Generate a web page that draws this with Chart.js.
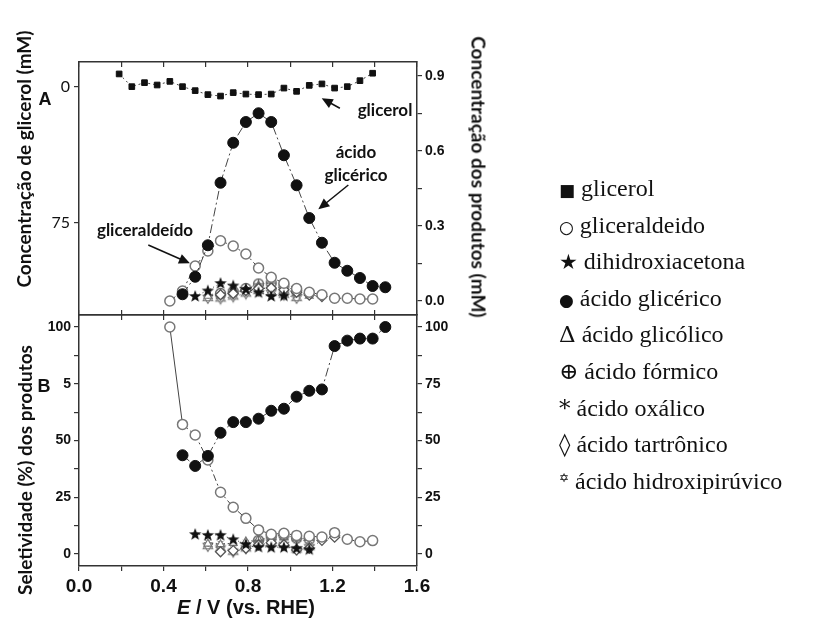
<!DOCTYPE html>
<html>
<head>
<meta charset="utf-8">
<script src="https://cdn.jsdelivr.net/npm/chart.js@4.4.1/dist/chart.umd.min.js"></script>
<style>
  body { margin: 0; background: #fff; }
  #wrap { position: relative; width: 819px; height: 621px; overflow: hidden; }
  canvas { position: absolute; left: 0; top: 0; }
  .t { position: absolute; white-space: nowrap; font-family: Lato, sans-serif; font-weight: bold; color: #111; transform: translate(-50%, -50%); }
  .ax { font-size: 19px; }
  .ann { font-size: 17px; }
  .pl { font-family: "Liberation Sans", Arial, sans-serif; font-size: 18px; }
  #xt { font-family: "Liberation Sans", Arial, sans-serif; font-size: 20px; }
  #legend { position: absolute; left: 559px; top: 170px; font-family: "Liberation Serif", "Times New Roman", Tinos, "Noto Serif", "DejaVu Serif", serif; font-size: 24px; color: #111; white-space: nowrap; }
  #legend div { height: 36.6px; line-height: 36.6px; }
  #legend span { line-height: 0; font-family: "DejaVu Sans", sans-serif; }
  #legend .s { font-size: 17px; }
  #legend .st { font-size: 21px; }
  #legend .big { font-family: "DejaVu Serif", serif; font-size: 23px; }
  #legend .sup { font-size: 12px; vertical-align: 7px; }
</style>
</head>
<body>
<div id="wrap">
  <canvas id="topChart" width="819" height="621"></canvas>
  <canvas id="botChart" width="819" height="621"></canvas>
  <div class="t ax" style="left:23px;top:159px;transform:translate(-50%,-50%) rotate(-90deg)">Concentração de glicerol (mM)</div>
  <div class="t ax" style="left:24px;top:470px;transform:translate(-50%,-50%) rotate(-90deg)">Seletividade (%) dos produtos</div>
  <div class="t ax" style="left:479px;top:177px;transform:translate(-50%,-50%) rotate(90deg)">Concentração dos produtos (mM)</div>
  <div class="t pl" style="left:45px;top:99px">A</div>
  <div class="t pl" style="left:44px;top:386px">B</div>
  <div class="t ann" style="left:385px;top:109px">glicerol</div>
  <div class="t ann" style="left:356px;top:151px">ácido</div>
  <div class="t ann" style="left:356px;top:174px">glicérico</div>
  <div class="t ann" style="left:145px;top:229px">gliceraldeído</div>
  <div class="t" id="xt" style="left:246px;top:607px"><i>E</i> / V (vs. RHE)</div>
  <div id="legend"></div>
</div>
<script>
// ---- data (E in V vs RHE) ----
const seriesNames = ['glicerol', 'gliceraldeido', 'dihidroxiacetona', 'ácido glicérico', 'ácido glicólico',
  'ácido fórmico', 'ácido oxálico', 'ácido tartrônico', 'ácido hidroxipirúvico'];
const legendSymbols = ['■', '○', '★', '●', 'Δ', '⊕', '*', '◊', '✡'];
const legendSymbolClass = ['s', 's', 'st', 's', 'big', 'big', 'big', 'big', 'sup'];

// panel A: glicerol on left axis, products (mM) on right axis
const eGlicerol = [0.19, 0.25, 0.31, 0.37, 0.43, 0.49, 0.55, 0.61, 0.67, 0.73, 0.79, 0.85, 0.91, 0.97, 1.03, 1.09, 1.15, 1.21, 1.27, 1.33, 1.39];
const glicerolA = [-7.2, -0.2, -2.4, -1.1, -3.1, -0.2, 2.0, 4.2, 5.0, 3.1, 3.9, 4.2, 3.9, 0.6, 2.4, -0.9, -1.7, 0.6, -0.2, -3.5, -7.6];

const eAldeido = [0.43, 0.49, 0.55, 0.61, 0.67, 0.73, 0.79, 0.85, 0.91, 0.97, 1.03, 1.09, 1.15, 1.21, 1.27, 1.33, 1.39];
const aldeidoA = [0.0, 0.04, 0.14, 0.20, 0.241, 0.22, 0.188, 0.132, 0.095, 0.071, 0.05, 0.035, 0.025, 0.011, 0.011, 0.008, 0.008];
const aldeidoB = [100, 57.1, 52.4, 41.4, 27.2, 20.6, 15.7, 10.6, 8.7, 9.1, 8.2, 7.8, 7.5, 9.4, 6.5, 5.4, 5.9];

const eGlicerico = [0.49, 0.55, 0.61, 0.67, 0.73, 0.79, 0.85, 0.91, 0.97, 1.03, 1.09, 1.15, 1.21, 1.27, 1.33, 1.39, 1.45];
const glicericoA = [0.027, 0.097, 0.223, 0.473, 0.633, 0.716, 0.751, 0.716, 0.583, 0.463, 0.332, 0.233, 0.153, 0.121, 0.092, 0.06, 0.055];
const glicericoB = [43.5, 38.8, 43.2, 53.4, 58.1, 58.1, 59.6, 63.1, 64.0, 69.3, 71.9, 72.5, 91.6, 94.0, 94.9, 94.9, 100];

const eDhaA = [0.55, 0.61, 0.67, 0.73, 0.79, 0.85, 0.91, 0.97];
const dhaA = [0.02, 0.042, 0.072, 0.062, 0.048, 0.035, 0.02, 0.022];
const eDhaB = [0.55, 0.61, 0.67, 0.73, 0.79, 0.85, 0.91, 0.97, 1.03, 1.09];
const dhaB = [8.8, 8.4, 8.4, 6.5, 4.4, 3.2, 3.0, 3.0, 2.6, 2.1];

const eGlicolico = [0.61, 0.67, 0.73, 0.79, 0.85, 0.91, 0.97, 1.03, 1.09];
const glicolicoA = [0.02, 0.025, 0.035, 0.045, 0.062, 0.06, 0.05, 0.03, 0.02];
const glicolicoB = [4.5, 4.2, 4.8, 5.5, 6.5, 7.2, 7.2, 6.8, 7.0];

const eFormicoA = [0.67, 0.73, 0.79, 0.85, 0.91, 0.97, 1.03];
const formicoA = [0.03, 0.038, 0.05, 0.068, 0.072, 0.06, 0.04];
const eFormicoB = [0.85, 0.91, 0.97, 1.03, 1.09];
const formicoB = [6.0, 7.8, 8.3, 7.0, 6.5];

const eOxalicoA = [0.61, 0.67, 0.73, 0.79, 0.85, 0.91, 0.97, 1.03];
const oxalicoA = [0.025, 0.03, 0.035, 0.04, 0.05, 0.05, 0.04, 0.03];
const eOxalicoB = [0.61, 0.67, 0.73, 0.79, 0.85, 0.91, 0.97, 1.03, 1.09];
const oxalicoB = [5.0, 4.5, 4.5, 5.0, 6.0, 6.5, 6.5, 6.0, 6.0];

const eTartronicoA = [0.67, 0.73, 0.79, 0.85, 0.91, 0.97, 1.03, 1.09, 1.15];
const tartronicoA = [0.025, 0.03, 0.042, 0.05, 0.052, 0.045, 0.035, 0.024, 0.018];
const eTartronicoB = [0.67, 0.73, 0.79, 0.85, 0.91, 0.97, 1.03, 1.09, 1.15, 1.21];
const tartronicoB = [1.0, 1.5, 2.5, 4.0, 5.0, 4.0, 1.8, 2.5, 6.0, 7.4];

const eHidroxiA = [0.61, 0.67, 0.73, 0.79, 0.85, 0.91, 0.97, 1.03];
const hidroxiA = [0.012, 0.01, 0.018, 0.03, 0.04, 0.032, 0.025, 0.012];
const eHidroxiB = [0.61, 0.67, 0.73, 0.79, 0.85, 0.91, 0.97, 1.03, 1.09];
const hidroxiB = [3.5, 2.5, 1.0, 2.5, 4.5, 5.0, 4.0, 2.0, 3.0];

// ticks
const xTickValues = [0, 0.4, 0.8, 1.2, 1.6];
const xTickLabels = ['0.0', '0.4', '0.8', '1.2', '1.6'];
const xMinor = [0.2, 0.6, 1.0, 1.4];
const gliTickValues = [0, 75];
const gliTickLabels = ['0', '75'];
const prodTickValues = [0, 0.3, 0.6, 0.9];
const prodTickLabels = ['0.0', '0.3', '0.6', '0.9'];
const prodMinor = [0.15, 0.45, 0.75];
const selTickValues = [0, 25, 50, 75, 100];
const selTickLabelsL = ['0', '25', '50', '5', '100'];
const selTickLabelsR = ['0', '25', '50', '75', '100'];
const selMinor = [12.5, 37.5, 62.5, 87.5];

// ---- marker images ----
function mark(size, draw) {
  const c = document.createElement('canvas');
  c.width = c.height = size;
  draw(c.getContext('2d'), size / 2);
  return c;
}
const starImg = mark(14, (g, c) => {
  g.beginPath();
  for (let i = 0; i < 10; i++) {
    const r = i % 2 ? 2.7 : 6.5, a = -Math.PI / 2 + i * Math.PI / 5;
    g.lineTo(c + r * Math.cos(a), c + 0.5 + r * Math.sin(a));
  }
  g.closePath(); g.fillStyle = '#111'; g.fill();
});
const plusCircleImg = mark(13, (g, c) => {
  g.strokeStyle = '#666'; g.lineWidth = 1.3;
  g.beginPath(); g.arc(c, c, 5, 0, Math.PI * 2); g.stroke();
  g.beginPath(); g.moveTo(c - 5, c); g.lineTo(c + 5, c); g.moveTo(c, c - 5); g.lineTo(c, c + 5); g.stroke();
});
const hexImg = mark(14, (g, c) => {
  g.strokeStyle = '#777'; g.lineWidth = 1.1;
  [-Math.PI / 2, Math.PI / 2].forEach(a0 => {
    g.beginPath();
    for (let i = 0; i < 3; i++) {
      const a = a0 + i * 2 * Math.PI / 3;
      g.lineTo(c + 5.5 * Math.cos(a), c + 5.5 * Math.sin(a));
    }
    g.closePath(); g.stroke();
  });
});

const styles = {
  'glicerol': { pointStyle: 'rect', pointRadius: 4, pointBackgroundColor: '#111', pointBorderColor: '#111', borderDash: [2, 3], order: 1 },
  'gliceraldeido': { pointStyle: 'circle', pointRadius: 5, pointBackgroundColor: '#fff', pointBorderColor: '#777', pointBorderWidth: 1.5, borderDash: [7, 3, 2, 3], order: 2 },
  'dihidroxiacetona': { pointStyle: starImg, pointRadius: 6, borderDash: [1, 3], order: 3 },
  'ácido glicérico': { pointStyle: 'circle', pointRadius: 5.5, pointBackgroundColor: '#111', pointBorderColor: '#111', borderDash: [9, 3, 2, 3], order: 0 },
  'ácido glicólico': { pointStyle: 'triangle', pointRadius: 4.5, pointBackgroundColor: '#fff', pointBorderColor: '#777', pointBorderWidth: 1.2, borderDash: [1, 3], order: 6 },
  'ácido fórmico': { pointStyle: plusCircleImg, pointRadius: 6, borderDash: [1, 3], order: 5 },
  'ácido oxálico': { pointStyle: 'star', pointRadius: 4, pointBorderColor: '#777', pointBorderWidth: 1, borderDash: [1, 3], order: 7 },
  'ácido tartrônico': { pointStyle: 'rectRot', pointRadius: 5, pointBackgroundColor: '#fff', pointBorderColor: '#555', pointBorderWidth: 1.3, borderDash: [1, 3], order: 4 },
  'ácido hidroxipirúvico': { pointStyle: hexImg, pointRadius: 6, borderDash: [1, 3], order: 8 }
};

function zip(xs, ys) { return xs.map((x, i) => ({ x: x, y: ys[i] })); }
function ds(name, xs, ys, axis) {
  return Object.assign({
    label: name, data: zip(xs, ys), yAxisID: axis, showLine: true, fill: false,
    borderColor: '#444', borderWidth: 1, tension: 0
  }, styles[name]);
}

const topData = [
  ds('glicerol', eGlicerol, glicerolA, 'yL'),
  ds('gliceraldeido', eAldeido, aldeidoA, 'yR'),
  ds('dihidroxiacetona', eDhaA, dhaA, 'yR'),
  ds('ácido glicérico', eGlicerico, glicericoA, 'yR'),
  ds('ácido glicólico', eGlicolico, glicolicoA, 'yR'),
  ds('ácido fórmico', eFormicoA, formicoA, 'yR'),
  ds('ácido oxálico', eOxalicoA, oxalicoA, 'yR'),
  ds('ácido tartrônico', eTartronicoA, tartronicoA, 'yR'),
  ds('ácido hidroxipirúvico', eHidroxiA, hidroxiA, 'yR')
];
const botData = [
  ds('gliceraldeido', eAldeido, aldeidoB, 'yL'),
  ds('dihidroxiacetona', eDhaB, dhaB, 'yL'),
  ds('ácido glicérico', eGlicerico, glicericoB, 'yL'),
  ds('ácido glicólico', eGlicolico, glicolicoB, 'yL'),
  ds('ácido fórmico', eFormicoB, formicoB, 'yL'),
  ds('ácido oxálico', eOxalicoB, oxalicoB, 'yL'),
  ds('ácido tartrônico', eTartronicoB, tartronicoB, 'yL'),
  ds('ácido hidroxipirúvico', eHidroxiB, hidroxiB, 'yL')
];
botData[0].segment = { borderDash: c => c.p0DataIndex === 0 ? [] : undefined };

// ---- axes ----
const lineCol = '#333';
function axis(pos, opts) {
  const majors = opts.majors, minors = opts.minors || [], labels = opts.labels;
  return {
    type: 'linear', position: pos, min: opts.min, max: opts.max, reverse: !!opts.reverse,
    border: { color: lineCol, width: 1.5 },
    grid: { drawOnChartArea: false, color: lineCol, lineWidth: 1.2, tickLength: opts.tick === undefined ? 5 : opts.tick },
    afterBuildTicks: s => { s.ticks = majors.concat(minors).map(v => ({ value: v })); },
    afterFit: s => { if (opts.w !== undefined) s.width = opts.w; if (opts.h !== undefined) s.height = opts.h; },
    ticks: {
      display: !!labels, autoSkip: false, maxRotation: 0, padding: opts.pad || 3, color: '#111',
      font: opts.font || { family: '"Liberation Sans", Arial, sans-serif', size: 14, weight: 'bold' },
      callback: v => { const i = majors.indexOf(v); return labels && i >= 0 ? labels[i] : ''; }
    }
  };
}

const arrows = {
  id: 'arrows',
  afterDatasetsDraw(chart, args, opts) {
    const ctx = chart.ctx, xs = chart.scales.x, ys = chart.scales[opts.axis];
    (opts.list || []).forEach(a => {
      const x1 = xs.getPixelForValue(a.from[0]), y1 = ys.getPixelForValue(a.from[1]);
      const x2 = xs.getPixelForValue(a.to[0]), y2 = ys.getPixelForValue(a.to[1]);
      const ang = Math.atan2(y2 - y1, x2 - x1), L = 11, W = 5;
      ctx.save();
      ctx.strokeStyle = '#111'; ctx.fillStyle = '#111'; ctx.lineWidth = 1.5;
      ctx.beginPath(); ctx.moveTo(x1, y1);
      ctx.lineTo(x2 - L * 0.8 * Math.cos(ang), y2 - L * 0.8 * Math.sin(ang)); ctx.stroke();
      ctx.beginPath(); ctx.moveTo(x2, y2);
      ctx.lineTo(x2 - L * Math.cos(ang) + W * Math.sin(ang), y2 - L * Math.sin(ang) - W * Math.cos(ang));
      ctx.lineTo(x2 - L * Math.cos(ang) - W * Math.sin(ang), y2 - L * Math.sin(ang) + W * Math.cos(ang));
      ctx.closePath(); ctx.fill();
      ctx.restore();
    });
  }
};

const common = {
  responsive: false, animation: false,
  layout: { padding: 0 },
  plugins: { legend: { display: false }, tooltip: { enabled: false } }
};

new Chart(document.getElementById('topChart'), {
  type: 'line',
  data: { datasets: topData },
  plugins: [arrows],
  options: Object.assign({}, common, {
    layout: { padding: { top: 62 } },
    plugins: Object.assign({}, common.plugins, {
      arrows: {
        axis: 'yR', list: [
          { from: [1.235, 0.771], to: [1.149, 0.811] },
          { from: [1.275, 0.464], to: [1.133, 0.367] },
          { from: [0.328, 0.224], to: [0.525, 0.151] }
        ]
      }
    }),
    scales: {
      x: axis('bottom', { min: 0, max: 1.6, majors: xTickValues, minors: xMinor, tick: -5, h: 306 }),
      xt: axis('top', { min: 0, max: 1.6, majors: xTickValues, minors: xMinor, tick: -5, h: 0 }),
      yL: axis('left', {
        min: -13.79, max: 125.74, reverse: true, majors: gliTickValues, labels: gliTickLabels, w: 79, pad: 4,
        font: { family: 'Lato, sans-serif', size: 16 }
      }),
      yR: axis('right', { min: -0.056, max: 0.956, majors: prodTickValues, labels: prodTickLabels, minors: prodMinor, w: 402 })
    }
  })
});

new Chart(document.getElementById('botChart'), {
  type: 'line',
  data: { datasets: botData },
  options: Object.assign({}, common, {
    layout: { padding: { top: 315 } },
    scales: {
      x: axis('bottom', {
        min: 0, max: 1.6, majors: xTickValues, labels: xTickLabels, minors: xMinor, h: 55, pad: 4,
        font: { family: '"Liberation Sans", Arial, sans-serif', size: 19, weight: 'bold' }
      }),
      xt: axis('top', { min: 0, max: 1.6, majors: xTickValues, minors: xMinor, tick: -5, h: 0 }),
      yL: axis('left', { min: -5.29, max: 105.29, majors: selTickValues, labels: selTickLabelsL, minors: selMinor, w: 79 }),
      yR: axis('right', { min: -5.29, max: 105.29, majors: selTickValues, labels: selTickLabelsR, minors: selMinor, w: 402 })
    }
  })
});

// legend text
document.getElementById('legend').innerHTML = seriesNames.map((n, i) =>
  '<div><span class="' + legendSymbolClass[i] + '">' + legendSymbols[i] + '</span> ' + n + '</div>').join('');
</script>
</body>
</html>
